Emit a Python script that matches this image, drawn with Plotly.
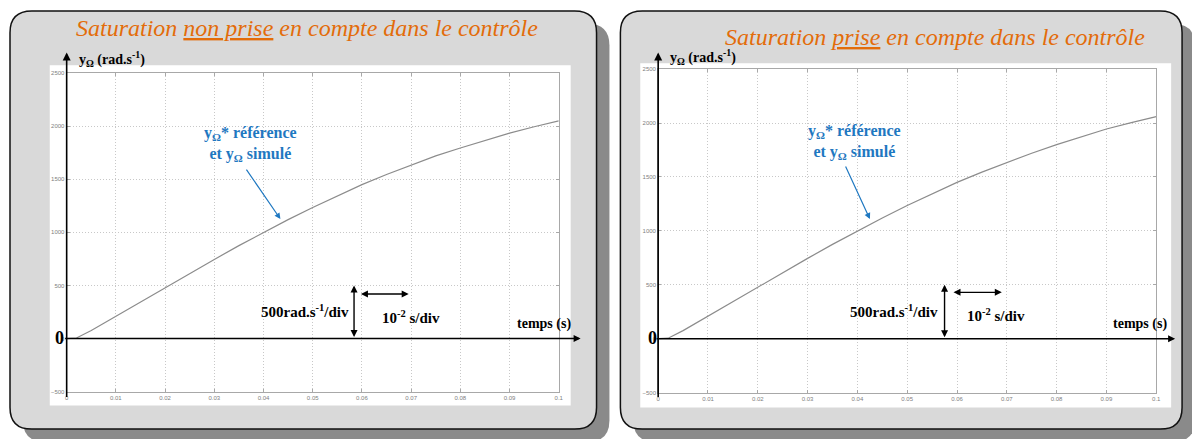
import plotly.graph_objects as go

# the page puts the figure 8px in from the top-left corner
OFF = 8
W, H = 1200 - OFF, 439 - OFF

# data
time_s = [0, 0.002, 0.005, 0.01, 0.015, 0.02, 0.025, 0.03, 0.035, 0.04, 0.045,
          0.05, 0.055, 0.06, 0.065, 0.07, 0.075, 0.08, 0.085, 0.09, 0.095, 0.1]
speed_no_sat = [0, 5, 75, 210, 345, 478, 612, 745, 875, 1000, 1120,
                1235, 1345, 1450, 1545, 1635, 1720, 1795, 1865, 1935, 1995, 2050]
speed_sat = [0, 5, 75, 210, 345, 478, 612, 745, 875, 1000, 1120,
             1235, 1345, 1450, 1545, 1635, 1720, 1800, 1875, 1945, 2005, 2060]

x_ticks = [0, 0.01, 0.02, 0.03, 0.04, 0.05, 0.06, 0.07, 0.08, 0.09, 0.1]
x_ticktext = ['0', '0.01', '0.02', '0.03', '0.04', '0.05', '0.06', '0.07', '0.08', '0.09', '0.1']
y_ticks = [-500, 0, 500, 1000, 1500, 2000, 2500]

titles = ['<i>Saturation <u>non prise</u> en compte dans le contrôle</i>',
          '<i>Saturation <u>prise</u> en compte dans le contrôle</i>']

SERIF = 'Liberation Serif'
ORANGE = '#E36C0A'
BLUE = '#1F78C1'


def px(x):
    return (x - OFF) / W


def py(y):
    return 1 - (y - OFF) / H


def rounded(x0, y0, x1, y1, r):
    def p(x, y):
        return f'{px(x):.5f},{py(y):.5f}'
    return (f'M {p(x0 + r, y0)} L {p(x1 - r, y0)} Q {p(x1, y0)} {p(x1, y0 + r)} '
            f'L {p(x1, y1 - r)} Q {p(x1, y1)} {p(x1 - r, y1)} L {p(x0 + r, y1)} '
            f'Q {p(x0, y1)} {p(x0, y1 - r)} L {p(x0, y0 + r)} Q {p(x0, y0)} {p(x0 + r, y0)} Z')


def label(text, x, y, size, color='black', xanchor='center'):
    return dict(text=text, x=px(x), y=py(y), xref='paper', yref='paper', showarrow=False,
                xanchor=xanchor, yanchor='middle', align='center',
                font=dict(family=SERIF, size=size, color=color))


fig = go.Figure()
fig.add_trace(go.Scatter(x=time_s, y=speed_no_sat, mode='lines', line=dict(color='#8C8C8C', width=1.2),
                         xaxis='x', yaxis='y', showlegend=False))
fig.add_trace(go.Scatter(x=time_s, y=speed_sat, mode='lines', line=dict(color='#8C8C8C', width=1.2),
                         xaxis='x2', yaxis='y2', showlegend=False))

axis_common = dict(showgrid=True, gridcolor='#C8C8C8', griddash='1px,2px', gridwidth=1,
                   showline=True, linecolor='#A8A8A8', linewidth=1, mirror='allticks',
                   ticks='inside', ticklen=3, tickcolor='#A8A8A8',
                   tickfont=dict(size=6, color='#808080', family='Liberation Sans'),
                   zeroline=False, fixedrange=True)

# panel geometry in page pixels
panels = [
    dict(box=(8, 8, 598, 432), white=(48, 63, 572, 408), plot=(65, 71, 560, 394),
         title=(307, 25), ylab=(75, 57), yaxis_x=65, arrow_end=582,
         blue=(250, 143), blue_arrow=((245, 168), (280, 219)),
         vdiv_t=0.0584, hdiv=(0.0595, 0.0695, 420), vlab=(305, 312), hlab=(411, 318),
         temps=(545, 325), zero=(58, 340)),
    dict(box=(622, 8, 1187, 432), white=(642, 61, 1176, 410), plot=(660, 67, 1161, 395),
         title=(938, 34), ylab=(670, 55), yaxis_x=660, arrow_end=1180,
         blue=(857, 141), blue_arrow=((848, 165), (873, 219)),
         vdiv_t=0.0575, hdiv=(0.059, 0.069, 430), vlab=(897, 312), hlab=(1000, 316),
         temps=(1145, 325), zero=(654, 340)),
]

shapes = []
annotations = []
for i, pnl in enumerate(panels):
    x0, y0, x1, y1 = pnl['box']
    shapes.append(dict(type='path', path=rounded(x0 + 13, y0 + 13, x1 + 13, y1 + 13, 22), xref='paper',
                       yref='paper', fillcolor='#8A8A8A', line=dict(width=0), layer='below'))
    shapes.append(dict(type='path', path=rounded(x0, y0, x1, y1, 22), xref='paper', yref='paper',
                       fillcolor='#D9D9D9', line=dict(color='#111111', width=1.5), layer='below'))
    wx0, wy0, wx1, wy1 = pnl['white']
    shapes.append(dict(type='rect', x0=px(wx0), x1=px(wx1), y0=py(wy1), y1=py(wy0), xref='paper',
                       yref='paper', fillcolor='white', line=dict(width=0), layer='below'))

    sx = '' if i == 0 else '2'
    p0, q0, p1, q1 = pnl['plot']
    fig.update_layout(**{
        'xaxis' + sx: dict(axis_common, domain=[px(p0), px(p1)], range=[0, 0.1], anchor='y' + sx,
                           tickvals=x_ticks, ticktext=x_ticktext),
        'yaxis' + sx: dict(axis_common, domain=[py(q1), py(q0)], range=[-500, 2500], anchor='x' + sx,
                           tickvals=y_ticks),
    })
    xr, yr = 'x' + sx, 'y' + sx

    annotations.append(label(titles[i], *pnl['title'], 24, ORANGE))
    annotations.append(label('<b>y<sub>Ω</sub> (rad.s<sup>-1</sup>)</b>', *pnl['ylab'], 14, xanchor='left'))
    # black axes with arrows
    annotations.append(dict(text='', x=px(pnl['yaxis_x']), y=py(50), xref='paper', yref='paper',
                            ax=0, ay=346, showarrow=True, arrowhead=2, arrowsize=1, arrowwidth=1.6,
                            arrowcolor='black'))
    annotations.append(dict(text='', x=px(pnl['arrow_end']), y=0, xref='paper', yref=yr,
                            ax=-(pnl['arrow_end'] - pnl['yaxis_x']), ay=0, showarrow=True, arrowhead=2,
                            arrowsize=1, arrowwidth=1.4, arrowcolor='black'))
    annotations.append(label('<b>0</b>', *pnl['zero'], 18))
    annotations.append(label('<b>temps (s)</b>', *pnl['temps'], 14))
    # scale indicators
    annotations.append(dict(text='', x=pnl['vdiv_t'], y=500, xref=xr, yref=yr, ax=pnl['vdiv_t'], ay=0,
                            axref=xr, ayref=yr, showarrow=True, arrowhead=2, arrowside='end+start',
                            arrowsize=1, arrowwidth=1.4, arrowcolor='black'))
    h0, h1, hy = pnl['hdiv']
    annotations.append(dict(text='', x=h1, y=hy, xref=xr, yref=yr, ax=h0, ay=hy, axref=xr, ayref=yr,
                            showarrow=True, arrowhead=2, arrowside='end+start', arrowsize=1,
                            arrowwidth=1.4, arrowcolor='black'))
    annotations.append(label('<b>500rad.s<sup>-1</sup>/div</b>', *pnl['vlab'], 15))
    annotations.append(label('<b>10<sup>-2</sup> s/div</b>', *pnl['hlab'], 15))
    # blue label and arrow
    annotations.append(label('<b>y<sub>Ω</sub>* référence<br>et y<sub>Ω</sub> simulé</b>',
                             *pnl['blue'], 16, BLUE))
    (bx0, by0), (bx1, by1) = pnl['blue_arrow']
    annotations.append(dict(text='', x=px(bx1), y=py(by1), xref='paper', yref='paper',
                            ax=bx0 - bx1, ay=by0 - by1, showarrow=True, arrowhead=2, arrowsize=1,
                            arrowwidth=1.2, arrowcolor=BLUE))

fig.update_layout(width=W, height=H, margin=dict(l=0, r=0, t=0, b=0),
                  paper_bgcolor='white', plot_bgcolor='rgba(0,0,0,0)',
                  shapes=shapes, annotations=annotations, showlegend=False)

fig.write_html('out.html')
